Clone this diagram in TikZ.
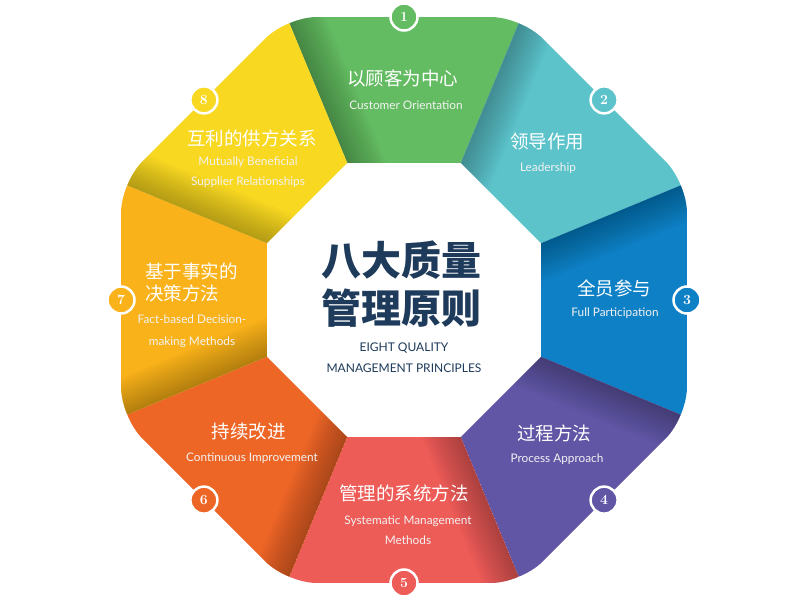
\documentclass[tikz,border=0pt]{standalone}
\usepackage{fontspec}
\newfontfamily\cjk{Noto Sans CJK SC}
\newfontfamily\en{Lato}
\definecolor{cA}{HTML}{64BC62}
\definecolor{cB}{HTML}{5CC3CB}
\definecolor{cC}{HTML}{0E80C5}
\definecolor{cD}{HTML}{6155A5}
\definecolor{cE}{HTML}{EE5C58}
\definecolor{cF}{HTML}{EE6626}
\definecolor{cG}{HTML}{F9B21A}
\definecolor{cH}{HTML}{F9D821}
\definecolor{navy}{HTML}{1E3B5B}
\tikzset{
  numc/.style={circle, draw=white, line width=2.5pt, minimum size=27pt, inner sep=0pt, text=white, font=\bfseries\fontsize{14}{14}\selectfont},
  cn/.style={text=white, inner sep=0pt, font=\cjk\fontsize{18.5}{22}\selectfont},
  ensub/.style={text=white!95!black, inner sep=0pt, align=center, font=\en\fontsize{11.8}{20}\selectfont},
}
\begin{document}
\begin{tikzpicture}[x=1pt,y=1pt]
\useasboundingbox (-404,-300) rectangle (396,300);
\fill[white] (-404,-300) rectangle (396,300);
\def\R{306.3}
\def\r{148.3}
\begin{scope}
\clip[rounded corners=30pt] (22.5:\R) -- (67.5:\R) -- (112.5:\R) -- (157.5:\R) -- (202.5:\R) -- (247.5:\R) -- (292.5:\R) -- (337.5:\R) -- cycle;
\foreach \k/\c in {1/cA,2/cB,3/cC,4/cD,5/cE,6/cF,7/cG,8/cH} {
  \pgfmathsetmacro\aone{157.5-45*\k}
  \pgfmathsetmacro\azero{112.5-45*\k}
  \begin{scope}
    \clip (\aone:\R+60) -- (\azero:\R+60) -- (\azero:\r) -- (\aone:\r) -- cycle;
    \fill[\c] (-420,-420) rectangle (420,420);
    \begin{scope}[rotate=\aone-90]
      \foreach \w in {3,6,...,36} \fill[black,opacity=0.022] (0,0) rectangle (\w,420);
    \end{scope}
  \end{scope}
}
\end{scope}
% numbered circles
\foreach \k/\c in {1/cA,2/cB,3/cC,4/cD,5/cE,6/cF,7/cG,8/cH}
  \node[numc, fill=\c] (n\k) at ({90-45*(\k-1)}:283) {\k};
% segment texts
\node[cn] (t1) at (-1,222) {以顾客为中心};
\node[ensub] (e1) at (2,195) {Customer Orientation};
\node[cn] (t2) at (143,158) {领导作用};
\node[ensub] (e2) at (144,132) {Leadership};
\node[cn] (t3) at (210,12) {全员参与};
\node[ensub] (e3) at (211,-13) {Full Participation};
\node[cn] (t4) at (150,-133) {过程方法};
\node[ensub] (e4) at (153,-159) {Process Approach};
\node[cn] (t5) at (0,-193) {管理的系统方法};
\node[ensub] (e5) at (4,-230) {Systematic Management\\Methods};
\node[cn] (t6) at (-155,-132) {持续改进};
\node[ensub] (e6) at (-152,-158) {Continuous Improvement};
\node[cn, anchor=west, align=left] (t7) at (-259,17.5) {基于事实的\\决策方法};
\node[ensub, font=\en\fontsize{11.8}{22}\selectfont] (e7) at (-212,-31) {Fact-based Decision-\\making Methods};
\node[cn] (t8) at (-152,162) {互利的供方关系};
\node[ensub] (e8) at (-156,128) {Mutually Beneficial\\Supplier Relationships};
% title
\node[text=navy, align=center, inner sep=0pt, font=\cjk\bfseries\fontsize{40}{48}\selectfont] (title) at (-2,16) {八大质量\\管理原则};
\node[text=navy, align=center, inner sep=0pt, font=\en\fontsize{12}{21}\selectfont] (subtitle) at (0,-57.5) {EIGHT QUALITY\\MANAGEMENT PRINCIPLES};
\end{tikzpicture}
\end{document}
